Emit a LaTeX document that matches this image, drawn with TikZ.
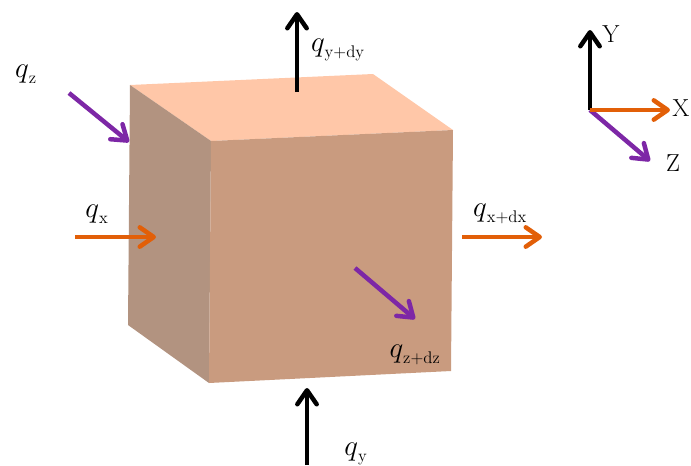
\documentclass[tikz,border=0pt]{standalone}
\usepackage{amsmath}
\usetikzlibrary{
    arrows.meta,
    calc
}
\definecolor{topface}{HTML}{FFC7A8}
\definecolor{frontface}{HTML}{C99B7F}
\definecolor{sideface}{HTML}{B29380}
\definecolor{xorange}{HTML}{E25F08}
\definecolor{zpurple}{HTML}{7D27A6}
\tikzset{
    flux/.style={-{Straight Barb[length=4.2mm, width=5.8mm, line width=1.35mm, round]}, line width=1.35mm},
    xflux/.style={flux, xorange},
    yflux/.style={flux, black},
    zflux/.style={flux, zpurple},
    lab/.style={inner sep=0pt, font=\fontsize{20}{22}\selectfont},
    axlab/.style={inner sep=0pt, font=\fontsize{21}{23}\selectfont}
}
\newcommand{\qflux}[1]{$\text{\fontsize{28}{30}\selectfont$q$}_{\mathrm{#1}}$}
\begin{document}
\begin{tikzpicture}[x=0.03cm, y=-0.03cm]
    \useasboundingbox (0,0) rectangle (691,465);
    % cube corners
    \coordinate (backleft) at (130,85);
    \coordinate (backright) at (373,74);
    \coordinate (frontright) at (453,130);
    \coordinate (frontleft) at (211,141);
    \coordinate (bottomleft) at (209,383);
    \coordinate (bottomright) at (451,371);
    \coordinate (sidebottom) at (128,325);
    \fill[topface] (backleft) -- (backright) -- (frontright) -- (frontleft) -- cycle;
    \fill[sideface] (backleft) -- (frontleft) -- (bottomleft) -- (sidebottom) -- cycle;
    \fill[frontface] (frontleft) -- (frontright) -- (bottomright) -- (bottomleft) -- cycle;
    % flux arrows
    \foreach \nm/\sx/\sy/\ex/\ey/\sty in {qyo/297/92/297/12/yflux,qyi/307/465/307/388/yflux,
        qxi/75/237/156/237/xflux,qxo/462/237/542/237/xflux,
        qzi/69/93/129/142/zflux,qzo/355/268/415/319/zflux}{
        \coordinate (\nm a) at (\sx,\sy);
        \coordinate (\nm b) at (\ex,\ey);
        \draw[\sty] (\nm a) -- (\nm b);
    }
    \node[lab] (lqz) at (26,74) {\qflux{z}};
    \node[lab] (lqx) at (97,214) {\qflux{x}};
    \node[lab] (lqyo) at (338,50) {\qflux{y+dy}};
    \node[lab] (lqxo) at (500,214) {\qflux{x+dx}};
    \node[lab] (lqzo) at (415,355) {\qflux{z+dz}};
    \node[lab] (lqy) at (356,454) {\qflux{y}};
    % axes
    \coordinate (origin) at (590,110);
    \node[axlab] (axy) at (611,34) {Y};
    \node[axlab] (axx) at (681,108) {X};
    \node[axlab] (axz) at (673,163) {Z};
    \coordinate (tipy) at (590,30);
    \coordinate (tipx) at (670,110);
    \coordinate (tipz) at (650,161);
    \draw[yflux] (origin) -- (tipy);
    \draw[zflux] (origin) -- (tipz);
    \draw[xflux] (origin) -- (tipx);
\end{tikzpicture}
\end{document}
